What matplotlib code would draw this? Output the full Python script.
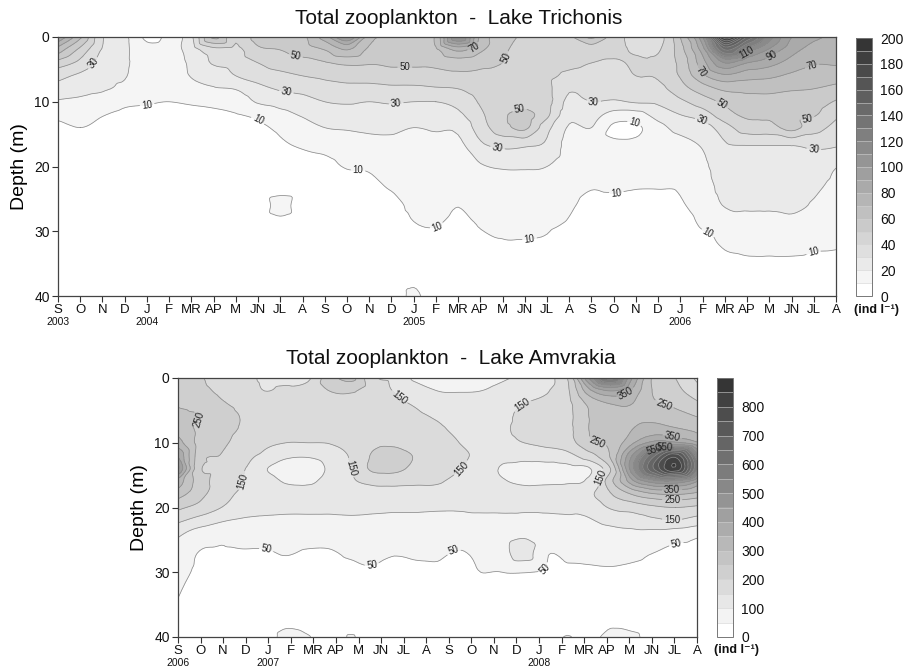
import numpy as np
import matplotlib
matplotlib.use("Agg")
import matplotlib.pyplot as plt
import matplotlib.tri as mtri
from matplotlib.colors import LinearSegmentedColormap, ListedColormap, BoundaryNorm
from matplotlib.cm import ScalarMappable
import matplotlib.transforms as mtransforms

plt.rcParams['font.family'] = ['Liberation Sans', 'DejaVu Sans']

month_labels = ['S', 'O', 'N', 'D', 'J', 'F', 'MR', 'AP', 'M', 'JN', 'JL', 'A']

# ---------------- Lake Trichonis (Sep 2003 - Aug 2006) ----------------
tri_title = "Total zooplankton  -  Lake Trichonis"
tri_months = list(range(36))
tri_depths = [0, 2, 4, 6, 8, 10, 12, 14, 17, 20, 23, 26, 29, 32, 36, 40]
# one depth profile (ind/l) per month
tri_profiles = [
    [90, 65, 46, 33, 26, 19, 12, 8, 5, 4, 3, 3, 3, 3, 3, 3],
    [62, 47, 37, 28, 23, 18, 14, 10, 6, 4, 3, 3, 3, 3, 3, 3],
    [31, 29, 26, 23, 21, 16, 10.5, 8, 5, 4, 3, 3, 3, 3, 3, 3],
    [22, 22, 21.5, 20.5, 18, 12, 8, 6, 4, 3, 3, 3, 3, 3, 3, 3],
    [8, 13, 15, 15, 14, 10.8, 8, 6, 4, 3, 3, 3, 3, 3, 3, 3],
    [13, 15, 15, 14, 13, 10, 7.5, 5.5, 4, 3, 3, 3, 3, 3, 3, 3],
    [28, 25, 22, 20.5, 17, 11, 8, 6, 4, 3, 3, 3, 3, 3, 3, 3],
    [62, 36, 31, 24, 19, 12, 8.5, 6, 4, 3, 3, 3, 3, 3, 3, 3],
    [42, 37, 34, 30, 20.5, 14, 9.5, 6.5, 4.5, 3, 3, 3, 3, 3, 3, 3],
    [55, 48, 40, 34, 27, 21, 12, 8, 5, 3.5, 3, 3, 3, 3, 3, 3],
    [60, 50, 45, 37, 31, 24, 17, 12, 8.5, 6, 5, 14, 6, 4, 3, 3],
    [58, 55, 46, 40, 33, 26, 21, 16, 10.5, 7, 5, 4, 3, 3, 3, 3],
    [75, 60, 49, 42, 36, 30, 25, 20, 12, 8, 6, 4, 3, 3, 3, 3],
    [100, 70, 52, 44, 37, 31, 26, 21, 14, 10.5, 7, 5, 4, 3, 3, 3],
    [65, 58, 51, 44, 37, 30, 26, 22, 16, 11, 8, 6, 4, 3, 3, 3],
    [55, 55, 52, 45, 38, 31, 26, 22, 17, 14, 11, 7, 5, 3, 3, 3],
    [52, 55, 52, 45, 38, 30, 25, 20, 17, 15, 13, 12, 9.5, 5, 6, 12],
    [62, 58, 53, 46, 39, 30, 25, 21, 17, 14.5, 13, 11.5, 10.5, 7, 4, 3],
    [110, 72, 55, 48, 40, 33, 28, 22, 17, 14, 12, 10.2, 7, 5, 4, 3],
    [68, 62, 53, 48, 44, 41, 38, 35, 27, 19, 15, 12.5, 10.5, 8, 5, 3],
    [55, 52, 50, 46, 43, 44, 48, 46, 31, 21, 16, 13, 11, 9.5, 6, 3],
    [48, 46, 44, 42, 41, 44, 54, 52, 30, 21, 17, 13.5, 11.5, 9.5, 6, 3],
    [45, 44, 43, 42, 42, 43, 42, 33, 28, 20, 16, 14, 11, 9, 6, 3],
    [48, 45, 42, 38, 31, 27, 23, 19, 16, 14, 12.5, 11, 9, 6, 4, 3],
    [62, 44, 40, 37, 34, 30, 24, 20, 15, 12.5, 10.5, 8, 5, 3, 3, 3],
    [45, 42, 39, 36, 33, 29, 16, 8, 13, 12, 11, 8, 5, 3, 3, 3],
    [36, 39, 41, 40, 36, 31, 16, 8, 13, 12, 10.5, 7, 4, 3, 3, 3],
    [36, 39, 42, 41, 37, 32, 24, 17, 14, 12, 10.5, 7, 4, 3, 3, 3],
    [60, 56, 53, 51, 46, 38, 30, 23, 16, 13, 11, 9, 6, 4, 3, 3],
    [100, 85, 76, 68, 55, 45, 35, 25, 20.5, 18, 16, 14, 11, 7, 4, 3],
    [198, 140, 100, 78, 62, 52, 46, 36, 28, 25, 23, 20.5, 14, 11, 7, 4],
    [150, 115, 90, 74, 63, 56, 52, 45, 29, 25, 23, 21, 17, 12, 8, 4],
    [115, 98, 84, 72, 63, 56, 52, 46, 29, 25, 23, 21, 17, 12, 8, 4],
    [90, 84, 76, 68, 61, 55, 52, 53, 29, 25, 23, 22, 17, 12, 8, 4],
    [82, 76, 71, 66, 60, 55, 51, 44, 31, 26, 22, 19, 15, 11, 8, 4],
    [78, 74, 71, 65, 57, 49, 42, 37, 30, 20.5, 17, 14, 12, 10.5, 8, 4],
]
tri_years = {0: '2003', 4: '2004', 16: '2005', 28: '2006'}
tri_levels = list(range(0, 201, 10))
tri_label_levels = [10, 30, 50, 70, 90, 110]
tri_cbar_ticks = list(range(0, 201, 20))
# where the contour labels sit (month, depth)
tri_label_spots = [(1.8, 4.6), (10.7, 2.5), (15.6, 4.9), (10.3, 7.9), (15.2, 9.8),
                   (4.0, 10.3), (9.0, 12.8), (13.5, 19.9), (17.0, 28.8), (18.8, 2.4),
                   (20.7, 4.1), (20.8, 11.9), (19.8, 16.5), (21.2, 30.9), (24.1, 10.0),
                   (25.9, 13.7), (25.1, 23.5), (31.0, 2.4), (32.2, 3.3), (29.0, 5.1),
                   (34.0, 5.4), (29.9, 10.2), (29.0, 12.6), (33.7, 12.3), (34.0, 17.7),
                   (29.1, 31.3), (34.0, 33.4)]

# ---------------- Lake Amvrakia (Sep 2006 - Aug 2008) ----------------
amv_title = "Total zooplankton  -  Lake Amvrakia"
amv_n_months = 24
amv_sample_months = np.linspace(0, 23, 25)
amv_depths = [0, 2, 4, 6, 8, 10, 12, 14, 16, 18, 20, 22, 24, 27, 30, 34, 38, 40]
amv_profiles = [
    [215, 228, 245, 262, 285, 320, 400, 460, 330, 270, 210, 160, 110, 80, 65, 50, 42, 38],
    [205, 215, 235, 250, 240, 232, 222, 210, 225, 215, 185, 130, 78, 48, 42, 38, 35, 32],
    [175, 190, 205, 212, 212, 208, 198, 188, 180, 170, 150, 105, 65, 45, 40, 35, 32, 30],
    [170, 178, 192, 198, 196, 185, 165, 155, 150, 140, 120, 95, 68, 47, 40, 35, 32, 30],
    [140, 150, 175, 185, 178, 160, 140, 105, 125, 128, 112, 92, 68, 47, 38, 33, 33, 32],
    [135, 160, 175, 178, 170, 150, 110, 75, 95, 125, 110, 90, 68, 52, 40, 33, 45, 60],
    [140, 170, 180, 180, 172, 150, 105, 75, 92, 125, 110, 90, 66, 47, 38, 33, 40, 52],
    [230, 200, 185, 180, 172, 152, 122, 108, 118, 130, 110, 90, 66, 47, 38, 34, 33, 32],
    [265, 205, 180, 178, 172, 165, 155, 150, 145, 130, 112, 92, 72, 55, 42, 36, 38, 52],
    [160, 172, 178, 180, 182, 190, 205, 210, 160, 130, 110, 90, 72, 56, 47, 36, 32, 30],
    [140, 148, 160, 172, 180, 192, 218, 215, 162, 132, 108, 88, 70, 52, 42, 35, 32, 30],
    [90, 125, 145, 160, 175, 185, 196, 185, 158, 130, 108, 88, 70, 54, 45, 35, 32, 30],
    [85, 100, 125, 145, 158, 168, 172, 165, 155, 128, 106, 86, 70, 55, 45, 35, 32, 30],
    [80, 98, 118, 132, 142, 150, 160, 152, 135, 120, 105, 88, 70, 48, 40, 35, 32, 30],
    [85, 100, 120, 135, 140, 142, 138, 130, 128, 125, 108, 88, 70, 58, 50, 38, 33, 30],
    [95, 112, 130, 140, 145, 140, 115, 95, 105, 120, 108, 90, 80, 82, 50, 38, 33, 30],
    [110, 130, 150, 162, 160, 150, 120, 78, 90, 125, 108, 90, 92, 125, 51, 38, 33, 30],
    [130, 145, 165, 175, 172, 160, 125, 80, 92, 125, 108, 90, 72, 55, 46, 38, 33, 30],
    [200, 190, 185, 185, 185, 175, 135, 85, 95, 128, 110, 92, 74, 57, 45, 38, 38, 52],
    [450, 330, 260, 250, 250, 240, 180, 95, 110, 140, 115, 96, 76, 58, 46, 38, 35, 34],
    [620, 400, 300, 275, 268, 262, 255, 200, 235, 195, 155, 115, 82, 60, 47, 38, 45, 65],
    [400, 340, 300, 290, 300, 340, 450, 480, 380, 250, 170, 125, 88, 58, 45, 38, 40, 58],
    [240, 245, 258, 285, 325, 420, 640, 700, 470, 290, 190, 140, 85, 50, 42, 38, 35, 33],
    [200, 215, 240, 270, 310, 410, 780, 840, 480, 300, 200, 148, 75, 40, 36, 34, 32, 30],
    [140, 170, 210, 250, 290, 360, 520, 560, 400, 280, 190, 130, 62, 38, 36, 34, 32, 30],
]
amv_years = {0: '2006', 4: '2007', 16: '2008'}
amv_levels = list(range(0, 901, 50))
amv_label_levels = [50, 150, 250, 350, 450, 550]
amv_cbar_ticks = list(range(0, 801, 100))
amv_label_spots = [(0.97, 6.5), (3.1, 16.0), (9.7, 3.4), (7.8, 13.7), (12.8, 14.7),
                   (3.9, 27.0), (8.6, 29.2), (12.1, 26.1), (15.4, 4.9), (19.9, 2.8),
                   (21.6, 3.4), (18.7, 8.5), (21.9, 9.1), (21.1, 10.8), (21.4, 11.7),
                   (18.7, 15.3), (21.9, 16.8), (21.9, 18.7), (21.9, 21.6), (22.1, 25.9),
                   (16.3, 29.6)]

# ---------------- drawing ----------------
W, H = 904, 671
fig = plt.figure(figsize=(W / 100, H / 100), dpi=100)

def px_rect(x0, y0, x1, y1):
    return [x0 / W, 1 - y1 / H, (x1 - x0) / W, (y1 - y0) / H]

base = LinearSegmentedColormap.from_list('g', ['#ffffff', '#353535'])

def band_cmap(levels):
    n = len(levels) - 1
    cols = [base(i / (n - 1)) for i in range(n)]
    cm = ListedColormap(cols)
    cm.set_under('#ffffff')
    cm.set_over(cols[-1])
    return cm

def draw_panel(ax, cax, xs, depths, profiles, n_months, levels, label_levels,
               label_spots, cbar_ticks, years, title, title_xy, unit_xy):
    Z = np.array(profiles, dtype=float).T
    X, Y = np.meshgrid(np.asarray(xs, dtype=float), np.asarray(depths, dtype=float))
    tr = mtri.Triangulation(X.ravel(), Y.ravel())
    interp = mtri.CubicTriInterpolator(tr, Z.ravel(), kind='geom')
    refiner = mtri.UniformTriRefiner(tr)
    tr_f, z_f = refiner.refine_field(Z.ravel(), triinterpolator=interp, subdiv=3)
    cm = band_cmap(levels)
    norm = BoundaryNorm(levels, cm.N)
    ax.tricontourf(tr_f, z_f, levels=levels, cmap=cm, norm=norm, extend='both')
    plain_levels = [lv for lv in levels[1:] if lv not in label_levels]
    ax.tricontour(tr_f, z_f, levels=plain_levels, colors='#8c8c8c', linewidths=0.55)
    cs_lab = ax.tricontour(tr_f, z_f, levels=label_levels, colors='#8c8c8c',
                           linewidths=0.55)
    ax.set_xlim(0, n_months - 1)
    ax.set_ylim(40, 0)
    ax.clabel(cs_lab, fmt='%d', fontsize=7, inline=True, inline_spacing=2,
              colors='#222222', manual=label_spots)
    ax.set_yticks([0, 10, 20, 30, 40])
    ax.set_xticks(range(n_months))
    ax.set_xticklabels([month_labels[i % 12] for i in range(n_months)])
    ax.tick_params(axis='both', direction='out', length=4, width=0.8,
                   colors='#333333', labelcolor='#111111', labelsize=9.5, pad=1.5)
    ax.tick_params(axis='y', pad=2, labelsize=10)
    for s in ax.spines.values():
        s.set_color('#444444')
        s.set_linewidth(0.9)
    ax.set_ylabel('Depth (m)', fontsize=14, labelpad=4)
    trans = mtransforms.blended_transform_factory(ax.transData, ax.transAxes)
    for m, yr in years.items():
        ax.text(m, -0.102, yr, transform=trans, ha='center', va='center',
                fontsize=7.5, color='#111111')
    fig.text(title_xy[0] / W, 1 - title_xy[1] / H, title, ha='center',
             va='center', fontsize=15, color='#111111')
    sm = ScalarMappable(norm=norm, cmap=cm)
    cb = fig.colorbar(sm, cax=cax, boundaries=levels, ticks=cbar_ticks,
                      drawedges=True)
    cb.minorticks_off()
    cb.outline.set_edgecolor('#777777')
    cb.outline.set_linewidth(0.7)
    cb.dividers.set_color('#d0d0d0')
    cb.dividers.set_linewidth(0.4)
    cax.tick_params(which='both', length=0, labelsize=10, pad=6, labelcolor='#111111')
    fig.text(unit_xy[0] / W, 1 - unit_xy[1] / H, '(ind l\u207b\u00b9)',
             ha='center', va='center', fontsize=9, fontweight='bold',
             color='#111111')

ax1 = fig.add_axes(px_rect(58, 37, 836, 296))
cax1 = fig.add_axes(px_rect(856, 38, 872, 296))
draw_panel(ax1, cax1, tri_months, tri_depths, tri_profiles, 36, tri_levels,
           tri_label_levels, tri_label_spots, tri_cbar_ticks, tri_years, tri_title,
           (459, 18), (877, 310))

ax2 = fig.add_axes(px_rect(178, 378, 697, 637))
cax2 = fig.add_axes(px_rect(717, 378, 733, 637))
draw_panel(ax2, cax2, amv_sample_months, amv_depths, amv_profiles, amv_n_months,
           amv_levels, amv_label_levels, amv_label_spots, amv_cbar_ticks, amv_years,
           amv_title, (451, 358), (736, 650))

fig.savefig('out.png', dpi=100)
